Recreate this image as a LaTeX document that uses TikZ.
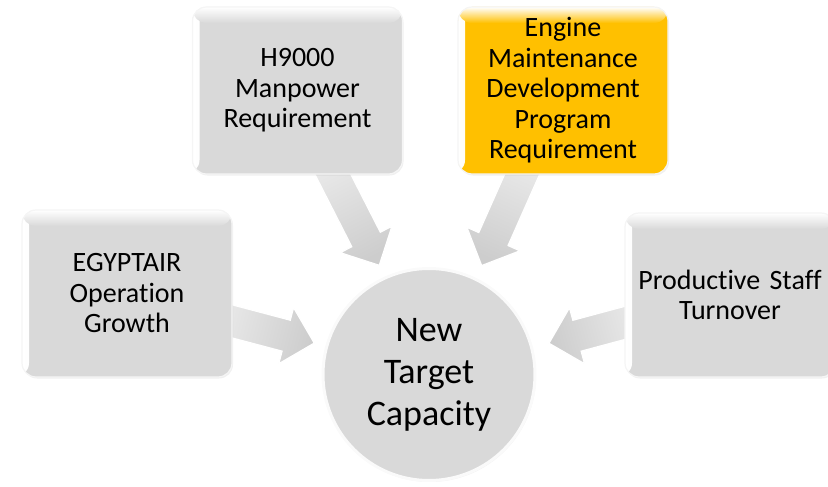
\documentclass[tikz,border=0pt]{standalone}
\usepackage{fontspec}
\setmainfont{Carlito}[Ligatures=NoCommon]
\usetikzlibrary{calc,shadows}
\definecolor{boxgray}{HTML}{D9D9D9}
\definecolor{gold}{HTML}{FFC000}
\definecolor{goldlight}{HTML}{FFE9A6}
\definecolor{arrowback}{HTML}{E8E8E8}
\definecolor{arrowtip}{HTML}{CDCDCD}
\pgfdeclarelayer{bg}
\pgfsetlayers{bg,main}
\tikzset{
  card/.style={rounded corners=14pt, minimum width=210pt, minimum height=167pt,
    fill=#1, draw=white!92!gray, line width=1.2pt, align=center, text width=200pt,
    inner sep=0pt, font=\fontsize{28}{30.5}\selectfont,
    drop shadow={opacity=0.12, shadow xshift=1pt, shadow yshift=-1.5pt},
    path picture={
      \shade[left color=white, right color=#1]
        (path picture bounding box.north west) rectangle ([xshift=7pt]path picture bounding box.south west);
      \shade[top color=white, bottom color=#1]
        (path picture bounding box.north west) rectangle ([yshift=-16pt]path picture bounding box.north east);
    }},
  hub/.style={circle, minimum size=212pt, fill=boxgray, draw=white!96!gray, line width=3pt,
    align=center, inner sep=0pt, font=\fontsize{36}{42}\selectfont,
    drop shadow={opacity=0.10, shadow xshift=1pt, shadow yshift=-1.5pt}},
  blockshade/.style={top color=arrowback, bottom color=arrowtip, draw=white, line width=1.2pt, line join=miter},
}
\newcommand\blockarrow[4]{%
  \coordinate (#1b) at ($(#2)!-10pt!(#3)$);
  \coordinate (#1h) at ($(#3)!29pt!(#2)$);
  \begin{pgfonlayer}{bg}
  \path[blockshade, shading angle=#4]
    ($(#1b)!16pt!90:(#3)$) -- ($(#1h)!16pt!90:(#3)$) -- ($(#1h)!29pt!90:(#3)$) -- (#3)
    -- ($(#1h)!29pt!-90:(#3)$) -- ($(#1h)!16pt!-90:(#3)$) -- ($(#1b)!16pt!-90:(#3)$) -- cycle;
  \end{pgfonlayer}
}
\begin{document}
\begin{tikzpicture}[x=1pt,y=1pt]
\useasboundingbox (0,0) rectangle (828,-487);
\node[card=boxgray] (egypt) at (127,-293.5) {EGYPTAIR\\Operation\\Growth};
\node[card=boxgray] (h9000) at (297.5,-90.5) {H9000\\Manpower\\Requirement};
\node[card=gold] (engine) at (563,-90.5) {Engine\\Maintenance\\Development\\Program\\Requirement};
\node[card=boxgray, minimum height=164pt] (staff) at (730,-295) {Productive Staff\\Turnover};
\node[hub] (target) at (429,-374.5) {New\\Target\\Capacity};
\coordinate (s1) at ($(egypt.east)+(0,-28)$);
\coordinate (s2) at ($(h9000.south)+(35.5,0)$);
\coordinate (s3) at ($(engine.south)+(-41,0)$);
\coordinate (s4) at ($(staff.west)+(0,-28)$);
\coordinate (t1) at ($(target.center)+(164.7:119)$);
\coordinate (t2) at ($(target.center)+(114.5:120)$);
\coordinate (t3) at ($(target.center)+(64.2:121)$);
\coordinate (t4) at ($(target.center)+(14.6:124)$);
\blockarrow{a1}{s1}{t1}{75.3}
\blockarrow{a2}{s2}{t2}{26.8}
\blockarrow{a3}{s3}{t3}{-23.7}
\blockarrow{a4}{s4}{t4}{285}
\end{tikzpicture}
\end{document}
